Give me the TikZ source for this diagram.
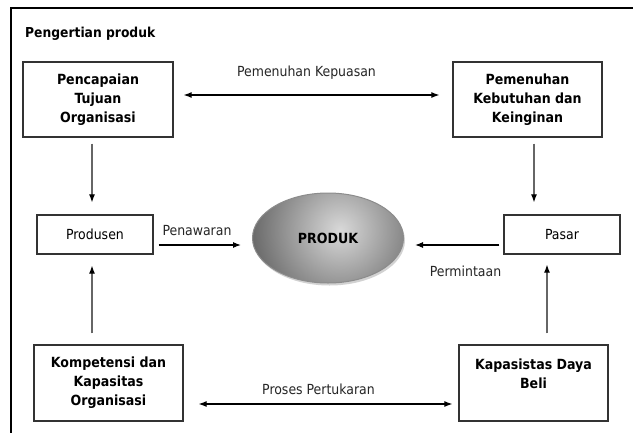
\documentclass[tikz,border=0pt]{standalone}
\usepackage{fontspec}
\setmainfont{DejaVu Sans Condensed}
\usetikzlibrary{arrows.meta,shapes.geometric,shadows}
\begin{document}
\begin{tikzpicture}[x=1pt,y=-1pt,
  every node/.style={font=\fontsize{13.9}{19}\selectfont},
  boxnode/.style={draw=black!80,line width=1.3pt,fill=white,inner sep=0pt,align=center},
  boldbox/.style={boxnode,font=\fontsize{14}{19}\selectfont\bfseries,minimum width=149pt,minimum height=75pt},
  smallbox/.style={boxnode,minimum width=116pt,minimum height=39pt},
  harrow/.style={line width=1.1pt,black,-{Latex[length=8pt,width=6pt]}},
  harrows/.style={line width=1.1pt,black,{Latex[length=8pt,width=6pt]}-{Latex[length=8pt,width=6pt]}},
  varrow/.style={line width=1.1pt,black!60,-{Latex[length=8pt,width=6pt,color=black]}},
  lbl/.style={inner sep=0pt,text=black!85}]
\useasboundingbox (0,0) rectangle (633,432);
\fill[white] (0,0) rectangle (633,432);
\draw[line width=2pt,black] (11,445) |- (645,8);
\node[anchor=west,inner sep=0pt,font=\fontsize{13.7}{15}\selectfont\bfseries] (title) at (25,34) {Pengertian produk};
\node[boldbox,minimum width=150pt] (b1) at (98,99.5) {Pencapaian\\Tujuan\\Organisasi};
\node[boldbox] (b2) at (527.5,99.5) {Pemenuhan\\Kebutuhan dan\\Keinginan};
\node[smallbox] (prod) at (95,234.5) {Produsen};
\node[smallbox] (pasar) at (562,234.5) {Pasar};
\node[boldbox,minimum height=76pt] (komp) at (108.5,383) {Kompetensi dan\\Kapasitas\\Organisasi};
\node[boldbox,minimum height=76pt] (kap) at (533.5,383) {Kapasistas Daya\\Beli\\\mbox{}};
\node[ellipse,draw=black!45,line width=1pt,minimum width=151pt,minimum height=90pt,
  drop shadow={shadow xshift=1.5pt,shadow yshift=-2.5pt,opacity=0.35},
  path picture={\shade[inner color=black!15,outer color=black!62]
    ([xshift=12pt,yshift=8pt]path picture bounding box.center) circle (95pt);},
  font=\fontsize{14}{15}\selectfont\bfseries] (ell) at (328,238) {PRODUK};
\draw[harrows] ([xshift=10pt,yshift=4.5pt]b1.east) -- ([xshift=-13pt,yshift=4.5pt]b2.west);
\draw[harrows] ([xshift=15pt,yshift=-21pt]komp.east) -- ([xshift=-6pt,yshift=-21pt]kap.west);
\draw[harrow] ([xshift=5pt,yshift=-10.5pt]prod.east) -- ([xshift=-11pt,yshift=-7pt]ell.west);
\draw[harrow] ([xshift=-4pt,yshift=-10.5pt]pasar.west) -- ([xshift=11pt,yshift=-7pt]ell.east);
\draw[varrow] ([xshift=-6pt,yshift=-6pt]b1.south) -- ([xshift=-3pt,yshift=12pt]prod.north);
\draw[varrow] ([xshift=6.5pt,yshift=-6pt]b2.south) -- ([xshift=-28pt,yshift=12pt]pasar.north);
\draw[varrow] ([xshift=-16.5pt,yshift=11pt]komp.north) -- ([xshift=-3pt,yshift=-11pt]prod.south);
\draw[varrow] ([xshift=13.5pt,yshift=11pt]kap.north) -- ([xshift=-15pt,yshift=-10pt]pasar.south);
\node[lbl] (l1) at (306.5,73) {Pemenuhan Kepuasan};
\node[lbl] (l2) at (318.5,389) {Proses Pertukaran};
\node[lbl] (l3) at (197,231) {Penawaran};
\node[lbl] (l4) at (465.5,271) {Permintaan};
\end{tikzpicture}
\end{document}
